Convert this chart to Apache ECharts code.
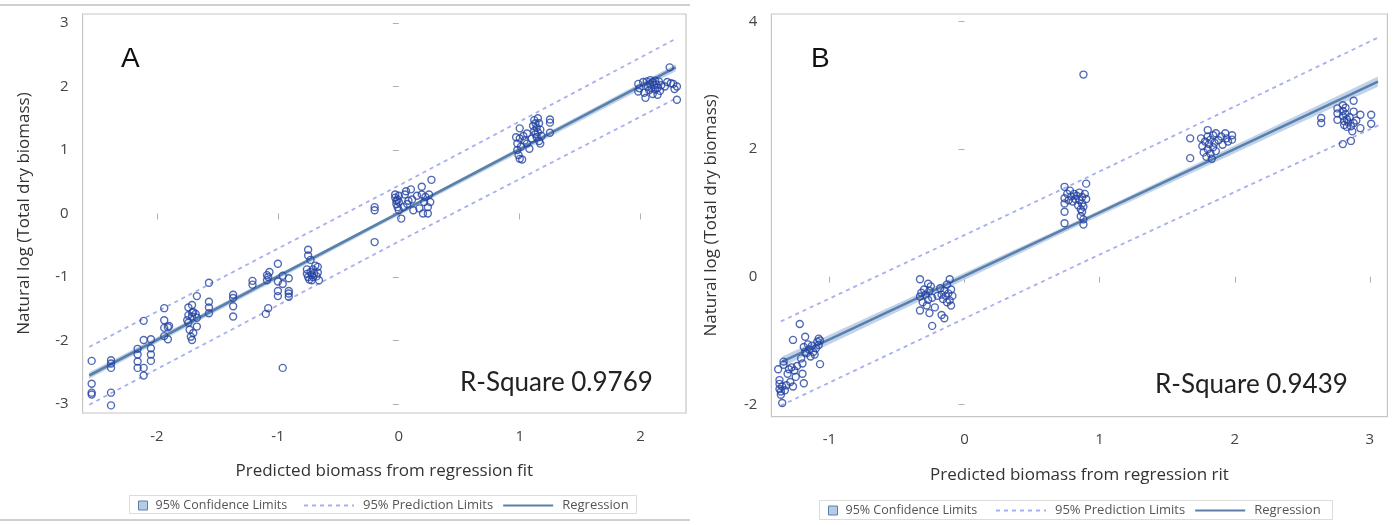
<!DOCTYPE html>
<html><head><meta charset="utf-8">
<script src="https://cdn.jsdelivr.net/npm/echarts@6/dist/echarts.min.js"></script>
<style>html,body{margin:0;padding:0;background:#fff}#c{width:1393px;height:525px}</style>
</head><body><div id="c"></div>
<script>
// ---------------- DATA ----------------
var xTicksA = [-2, -1, 0, 1, 2];
var yTicksA = [-3, -2, -1, 0, 1, 2, 3];
var xTicksB = [-1, 0, 1, 2, 3];
var yTicksB = [-2, 0, 2, 4];

var pointsA = [
 [-2.54,-2.32],[-2.54,-2.68],[-2.54,-2.82],[-2.54,-2.85],
 [-2.38,-2.31],[-2.38,-2.36],[-2.38,-2.43],[-2.38,-2.82],[-2.38,-3.02],
 [-2.16,-2.13],[-2.16,-2.22],[-2.16,-2.33],[-2.16,-2.43],
 [-2.11,-1.69],[-2.11,-1.99],[-2.11,-2.43],[-2.11,-2.55],
 [-2.05,-1.98],[-2.05,-2.12],[-2.05,-2.22],[-2.05,-2.32],
 [-1.94,-1.49],[-1.94,-1.68],[-1.94,-1.80],[-1.94,-1.93],
 [-1.91,-1.79],[-1.91,-1.98],[-1.90,-1.77],
 [-1.74,-1.48],[-1.74,-1.60],[-1.74,-1.72],[-1.73,-1.83],[-1.75,-1.68],
 [-1.71,-1.44],[-1.71,-1.56],[-1.71,-1.62],[-1.71,-1.99],[-1.70,-1.88],[-1.72,-1.94],[-1.70,-1.55],
 [-1.67,-1.30],[-1.67,-1.64],[-1.67,-1.78],[-1.68,-1.58],
 [-1.57,-1.09],[-1.57,-1.39],[-1.57,-1.48],[-1.57,-1.57],
 [-1.37,-1.28],[-1.37,-1.33],[-1.37,-1.46],[-1.37,-1.62],
 [-1.21,-1.06],[-1.21,-1.12],
 [-1.09,-0.97],[-1.09,-1.05],[-1.07,-0.92],[-1.08,-1.49],[-1.10,-1.58],[-1.08,-1.00],
 [-1.00,-0.79],[-1.00,-1.07],[-1.00,-1.22],[-1.00,-1.30],[-0.96,-0.98],[-0.96,-1.11],[-0.96,-2.43],
 [-0.91,-1.02],[-0.91,-1.22],[-0.91,-1.26],[-0.91,-1.31],
 [-0.75,-0.57],[-0.75,-0.66],[-0.73,-0.73],[-0.76,-0.88],[-0.76,-0.95],[-0.75,-1.00],[-0.74,-1.04],
 [-0.73,-0.92],[-0.72,-0.97],[-0.71,-0.88],[-0.71,-1.00],[-0.70,-0.94],[-0.72,-1.05],[-0.69,-0.82],
 [-0.67,-0.84],[-0.67,-0.93],[-0.66,-1.05],[-0.68,-0.99],
 [-0.20,0.10],[-0.20,0.05],[-0.20,-0.45],
 [-0.03,0.30],[-0.03,0.25],[-0.02,0.20],[-0.02,0.15],[-0.01,0.22],[0.00,0.28],[0.00,0.18],[-0.01,0.10],
 [0.00,0.05],[0.02,-0.08],[0.04,0.10],[0.05,0.30],[0.06,0.35],[0.07,0.15],[0.08,0.20],[0.10,0.38],
 [0.11,0.22],[0.12,0.05],[0.15,0.28],[0.17,0.08],[0.19,0.42],[0.19,0.30],[0.20,0.00],[0.21,0.18],
 [0.22,0.26],[0.24,0.10],[0.24,0.00],[0.25,0.30],[0.26,0.18],[0.27,0.53],
 [0.97,1.20],[0.98,1.10],[0.98,1.00],[0.99,0.92],[1.00,1.34],[1.00,1.18],[1.00,0.86],[1.01,1.05],
 [1.02,0.85],[1.03,1.22],[1.04,1.15],[1.06,1.26],[1.06,1.10],[1.08,1.02],[1.10,1.18],[1.11,1.38],
 [1.12,1.47],[1.12,1.30],[1.13,1.42],[1.13,1.25],[1.14,1.35],[1.14,1.20],[1.15,1.50],[1.15,1.28],
 [1.16,1.42],[1.16,1.14],[1.17,1.32],[1.17,1.10],[1.18,1.22],[1.25,1.48],[1.25,1.43],[1.25,1.27],
 [1.98,2.04],[1.98,1.92],[1.99,1.97],[2.02,2.07],[2.03,1.90],[2.04,1.82],[2.05,2.08],[2.06,2.00],
 [2.07,1.94],[2.08,2.10],[2.08,2.03],[2.09,1.97],[2.10,2.07],[2.10,1.88],[2.11,2.02],[2.12,1.95],
 [2.12,2.09],[2.13,2.03],[2.14,1.87],[2.14,1.98],[2.15,2.08],[2.16,1.93],[2.17,2.02],[2.20,2.00],
 [2.22,2.07],[2.24,2.30],[2.25,2.05],[2.27,2.04],[2.28,1.96],[2.30,2.00],[2.30,1.79]
];
var regA = [[-2.56,-2.55],[2.29,2.30]];
var confA = [[-2.56,-2.60,-2.50],[0,-0.03,0.03],[2.29,2.24,2.35]];
var predUpA = [[-2.56,-2.10],[0,0.44],[2.30,2.76]];
var predLoA = [[-2.56,-3.01],[0,-0.44],[2.30,1.82]];

var pointsB = [
 [-1.38,-1.45],[-1.37,-1.62],[-1.37,-1.68],[-1.37,-1.76],[-1.36,-1.80],[-1.36,-1.85],[-1.35,-1.98],[-1.35,-1.72],
 [-1.34,-1.33],[-1.34,-1.38],[-1.33,-1.78],[-1.32,-1.70],[-1.31,-1.52],[-1.30,-1.45],[-1.29,-1.65],[-1.28,-1.42],
 [-1.27,-1.72],[-1.27,-0.99],[-1.26,-1.47],[-1.25,-1.57],[-1.24,-1.40],[-1.22,-0.74],[-1.21,-1.28],[-1.20,-1.36],
 [-1.20,-1.52],[-1.19,-1.67],[-1.19,-1.10],[-1.18,-0.94],[-1.18,-1.18],[-1.17,-1.20],[-1.16,-1.06],[-1.15,-1.14],
 [-1.14,-1.25],[-1.13,-1.08],[-1.12,-1.18],[-1.11,-1.22],[-1.10,-1.12],[-1.09,-1.02],[-1.08,-0.97],[-1.08,-1.07],
 [-1.07,-1.37],[-1.07,-1.00],
 [-0.33,-0.04],[-0.33,-0.31],[-0.33,-0.53],[-0.32,-0.25],[-0.31,-0.40],[-0.30,-0.20],[-0.29,-0.28],[-0.28,-0.45],
 [-0.27,-0.11],[-0.27,-0.36],[-0.26,-0.57],[-0.26,-0.22],[-0.25,-0.15],[-0.24,-0.77],[-0.24,-0.33],[-0.22,-0.48],
 [-0.20,-0.30],[-0.18,-0.18],[-0.17,-0.60],[-0.17,-0.28],[-0.16,-0.35],[-0.15,-0.65],[-0.15,-0.22],[-0.14,-0.30],
 [-0.13,-0.40],[-0.13,-0.12],[-0.12,-0.26],[-0.11,-0.04],[-0.11,-0.37],[-0.10,-0.45],[-0.10,-0.20],[-0.09,-0.30],
 [0.74,1.41],[0.74,1.23],[0.74,1.15],[0.74,1.02],[0.74,0.84],[0.76,1.30],[0.77,1.20],[0.78,1.35],
 [0.79,1.26],[0.80,1.18],[0.81,1.30],[0.82,1.22],[0.83,1.27],[0.84,1.12],[0.85,1.32],[0.85,1.20],
 [0.86,1.06],[0.86,0.95],[0.87,1.25],[0.87,1.15],[0.87,1.02],[0.88,0.90],[0.88,0.82],[0.88,1.10],
 [0.89,1.30],[0.90,1.46],[0.90,1.22],[0.88,3.17],
 [1.67,2.17],[1.67,1.86],[1.75,2.17],[1.76,2.05],[1.77,1.95],[1.78,2.12],[1.79,1.88],[1.80,2.30],
 [1.80,2.20],[1.80,2.00],[1.81,2.08],[1.82,1.93],[1.82,2.15],[1.83,1.85],[1.84,2.22],[1.84,2.03],
 [1.85,2.10],[1.86,2.25],[1.86,1.97],[1.88,2.14],[1.90,2.20],[1.91,2.07],[1.93,2.25],[1.94,2.17],
 [1.95,2.12],[1.98,2.22],[1.98,2.15],
 [2.64,2.49],[2.64,2.41],[2.76,2.64],[2.76,2.56],[2.76,2.46],[2.80,2.69],[2.80,2.60],[2.80,2.52],
 [2.81,2.44],[2.81,2.38],[2.82,2.65],[2.82,2.55],[2.83,2.47],[2.83,2.35],[2.80,2.08],[2.84,2.42],
 [2.85,2.50],[2.86,2.36],[2.86,2.13],[2.87,2.28],[2.88,2.76],[2.88,2.59],[2.88,2.41],[2.90,2.45],
 [2.93,2.54],[2.93,2.33],[3.01,2.54],[3.01,2.40]
];
var regB = [[-1.35,-1.33],[3.06,3.06]];
var confB = [[-1.35,-1.41,-1.25],[0.9,0.86,0.94],[3.06,2.98,3.14]];
var predUpB = [[-1.36,-0.70],[0.9,1.55],[3.07,3.76]];
var predLoB = [[-1.36,-2.02],[0.9,0.25],[3.07,2.38]];

// ---------------- STYLE ----------------
var MARK = '#2443a2', REG = '#5a80aa', PRED = '#a6aff0', BAND = '#b6cbe6';
var FONT = 'Open Sans';

function axisX(idx, min, max, ticks, name) {
  return {
    type: 'value', gridIndex: idx, min: min, max: max,
    name: name, nameLocation: 'middle', nameGap: 50,
    nameTextStyle: {fontFamily: FONT, fontSize: 17, color: '#333'},
    axisLine: {show: false},
    axisTick: {show: true, length: 6, inside: false, lineStyle: {color: '#b0b0b0'}, customValues: ticks},
    axisLabel: {fontFamily: FONT, fontSize: 15, color: '#444', margin: 16, customValues: ticks},
    splitLine: {show: false}
  };
}
function axisY(idx, min, max, ticks, gap) {
  return {
    type: 'value', gridIndex: idx, min: min, max: max,
    name: 'Natural log (Total dry biomass)', nameLocation: 'middle', nameGap: gap, nameRotate: 90,
    nameTextStyle: {fontFamily: FONT, fontSize: 17, color: '#333'},
    axisLine: {show: false},
    axisTick: {show: true, length: 6, lineStyle: {color: '#b0b0b0'}, customValues: ticks},
    axisLabel: {fontFamily: FONT, fontSize: 15, color: '#444', margin: 14, customValues: ticks},
    splitLine: {show: false}
  };
}
function bandSeries(pts, idx) {
  return {
    type: 'custom', name: '95% Confidence Limits', xAxisIndex: idx, yAxisIndex: idx,
    data: pts, encode: {x: 0, y: [1, 2]}, z: 1, silent: true,
    renderItem: function (params, api) {
      if (params.dataIndex !== 0) return null;
      var up = pts.map(function (p) { return api.coord([p[0], p[2]]); });
      var lo = pts.slice().reverse().map(function (p) { return api.coord([p[0], p[1]]); });
      return {type: 'polygon', shape: {points: up.concat(lo)}, style: {fill: BAND, opacity: 0.85}};
    }
  };
}
function lineSeries(name, pts, idx, style) {
  return {type: 'line', name: name, xAxisIndex: idx, yAxisIndex: idx, data: pts,
    symbol: 'none', lineStyle: style, itemStyle: {color: style.color}, z: 2, silent: true, animation: false};
}
function scatterSeries(pts, idx) {
  return {type: 'scatter', name: 'Observed', xAxisIndex: idx, yAxisIndex: idx, data: pts,
    symbol: 'circle', symbolSize: 7, z: 3,
    itemStyle: {color: 'rgba(0,0,0,0)', borderColor: MARK, borderWidth: 1.4}};
}
var predStyle = {color: PRED, width: 1.8, type: [4, 4]};
var regStyle = {color: REG, width: 2.6};

function legendsFor(top, confLeft, lineLeft) {
  return [
    {left: confLeft, top: top, orient: 'horizontal', itemWidth: 9, itemHeight: 9, padding: 0,
     textStyle: {fontFamily: FONT, fontSize: 12.5, color: '#555', padding: [0, 0, 0, 3]},
     data: [{name: '95% Confidence Limits', icon: 'rect', itemStyle: {color: BAND, borderColor: '#5a80aa', borderWidth: 1}}]},
    {left: lineLeft, top: top, orient: 'horizontal', itemWidth: 50, itemHeight: 10, itemGap: 9, padding: 0,
     textStyle: {fontFamily: FONT, fontSize: 13, color: '#555', padding: [0, 0, 0, 4]},
     data: [{name: '95% Prediction Limits', itemStyle: {opacity: 0}},
            {name: 'Regression', itemStyle: {opacity: 0}}]}
  ];
}

var option = {
  backgroundColor: '#fff',
  animation: false,
  grid: [
    {left: 82.6, top: 14, width: 603.4, height: 399, show: true, borderColor: '#c6c6c6', borderWidth: 1.2, backgroundColor: 'transparent'},
    {left: 771.4, top: 14, width: 616, height: 402.7, show: true, borderColor: '#c6c6c6', borderWidth: 1.2, backgroundColor: 'transparent'}
  ],
  xAxis: [
    axisX(0, -2.615, 2.375, xTicksA, 'Predicted biomass from regression fit'),
    axisX(1, -1.43, 3.13, xTicksB, 'Predicted biomass from regression rit')
  ],
  yAxis: [
    axisY(0, -3.14, 3.14, yTicksA, 50),
    axisY(1, -2.194, 4.12, yTicksB, 52)
  ],
  legend: legendsFor(499, 138, 303).concat(legendsFor(504, 828, 995)),
  graphic: [
    {type: 'line', shape: {x1: 0, y1: 5, x2: 690, y2: 5}, style: {stroke: '#d0d0d0', lineWidth: 2}},
    {type: 'line', shape: {x1: 0, y1: 520, x2: 690, y2: 520}, style: {stroke: '#d0d0d0', lineWidth: 2}},
    {type: 'rect', shape: {x: 129.5, y: 495.5, width: 507, height: 18}, style: {fill: 'none', stroke: '#dcdcdc', lineWidth: 1}},
    {type: 'rect', shape: {x: 819.5, y: 500.5, width: 513, height: 19}, style: {fill: 'none', stroke: '#dcdcdc', lineWidth: 1}},
    {type: 'text', left: 121, top: 45, style: {text: 'A', fontFamily: 'Liberation Sans', fontSize: 28, fill: '#111'}},
    {type: 'text', left: 811, top: 45, style: {text: 'B', fontFamily: 'Liberation Sans', fontSize: 28, fill: '#111'}},
    {type: 'text', left: 460, top: 370, style: {text: 'R-Square 0.9769', fontFamily: 'Lato', fontSize: 26, fill: '#222'}},
    {type: 'text', left: 1155, top: 372, style: {text: 'R-Square 0.9439', fontFamily: 'Lato', fontSize: 26, fill: '#222'}}
  ],
  series: [
    bandSeries(confA, 0),
    lineSeries('95% Prediction Limits', predUpA, 0, predStyle),
    lineSeries('95% Prediction Limits', predLoA, 0, predStyle),
    lineSeries('Regression', regA, 0, regStyle),
    scatterSeries(pointsA, 0),
    bandSeries(confB, 1),
    lineSeries('95% Prediction Limits', predUpB, 1, predStyle),
    lineSeries('95% Prediction Limits', predLoB, 1, predStyle),
    lineSeries('Regression', regB, 1, regStyle),
    scatterSeries(pointsB, 1)
  ]
};
var chart = echarts.init(document.getElementById('c'), null, {renderer: 'canvas'});
chart.setOption(option);
</script></body></html>
